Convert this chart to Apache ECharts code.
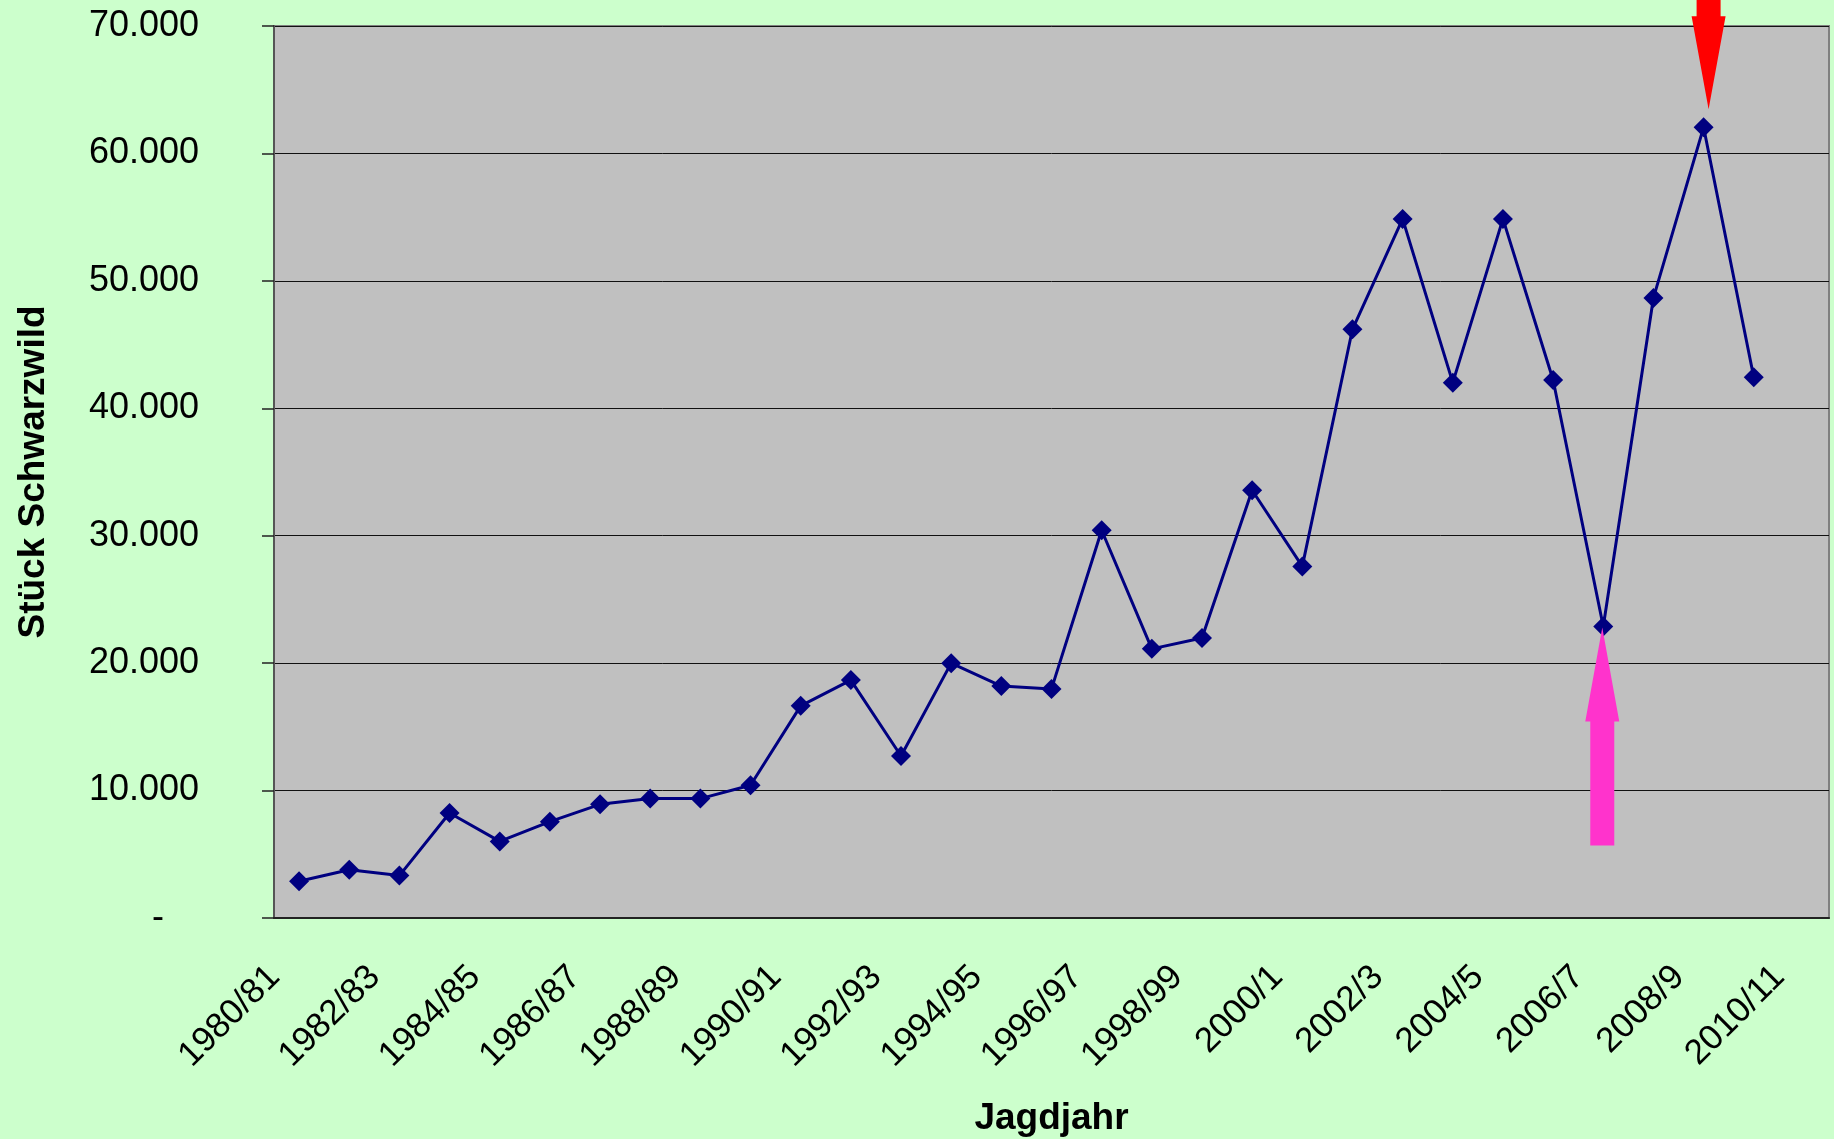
<!DOCTYPE html>
<html>
<head>
<meta charset="utf-8">
<title>Schwarzwild Strecke</title>
<script src="https://cdn.jsdelivr.net/npm/echarts@6/dist/echarts.min.js"></script>
<style>
  html, body { margin: 0; padding: 0; background: #ccffcc; }
  #chart { width: 1834px; height: 1139px; }
</style>
</head>
<body>
<div id="chart"></div>
<script>
// Jagdjahre (jede zweite Beschriftung sichtbar)
const years = [
  "1980/81", "1981/82", "1982/83", "1983/84", "1984/85", "1985/86", "1986/87",
  "1987/88", "1988/89", "1989/90", "1990/91", "1991/92", "1992/93", "1993/94",
  "1994/95", "1995/96", "1996/97", "1997/98", "1998/99", "1999/2000", "2000/1",
  "2001/2", "2002/3", "2003/4", "2004/5", "2005/6", "2006/7", "2007/8",
  "2008/9", "2009/10", "2010/11",
];
// Strecke Schwarzwild (Stück), 2010/11 ohne Wert
const strecke = [
  2880, 3780, 3330, 8240, 6010, 7560, 8920, 9370, 9370, 10420,
  16650, 18670, 12710, 20000, 18200, 17980, 30430, 21120, 21980, 33570,
  27590, 46200, 54860, 42010, 54860, 42220, 22880, 48660, 62050, 42440,
];
// markierte Jahre für die Pfeile
const lowYear = "2006/7";
const peakYear = "2008/9";

const font = "'Liberation Sans', Arial, sans-serif";

const fmt = (v) => String(v).replace(/\B(?=(\d{3})+(?!\d))/g, ".");

const chart = echarts.init(document.getElementById("chart"));

const option = {
  backgroundColor: "#ccffcc",
  animation: false,
  grid: {
    left: 274,
    right: 5,
    top: 26,
    bottom: 221,
    outerBoundsMode: "none",
    show: true,
    backgroundColor: "#c0c0c0",
    borderColor: "#808080",
    borderWidth: 2,
  },
  xAxis: {
    type: "category",
    data: years,
    boundaryGap: true,
    name: "Jagdjahr",
    nameLocation: "middle",
    nameGap: 182,
    nameTextStyle: {
      fontFamily: font,
      fontSize: 37,
      fontWeight: "bold",
      color: "#000",
    },
    axisLine: { lineStyle: { color: "#222", width: 2 } },
    axisTick: {
      interval: 0,
      length: 12,
      lineStyle: { color: "#222", width: 1.5 },
    },
    axisLabel: {
      interval: 1,
      rotate: 45,
      margin: 29,
      padding: [0, 35, 0, 0],
      fontFamily: font,
      fontSize: 35,
      color: "#000",
    },
    splitLine: { show: false },
  },
  yAxis: {
    type: "value",
    min: 0,
    max: 70000,
    interval: 10000,
    name: "Stück Schwarzwild",
    nameLocation: "middle",
    nameGap: 222,
    nameTextStyle: {
      fontFamily: font,
      fontSize: 37,
      fontWeight: "bold",
      color: "#000",
    },
    axisLine: { show: true, lineStyle: { color: "#555", width: 2 } },
    axisTick: { show: true, length: 12, lineStyle: { color: "#222", width: 1.5 } },
    axisLabel: {
      margin: 75,
      fontFamily: font,
      fontSize: 36,
      color: "#000",
      formatter: (v) => (v === 0 ? "{z|-}" : fmt(v)),
      rich: {
        z: { fontFamily: font, fontSize: 36, color: "#000", padding: [0, 35, 0, 0] },
      },
    },
    splitLine: { lineStyle: { color: "#111", width: 1 } },
  },
  series: [
    {
      name: "Stück Schwarzwild",
      type: "line",
      data: strecke,
      symbol: "diamond",
      symbolSize: 20,
      lineStyle: { color: "#000080", width: 3 },
      itemStyle: { color: "#000080" },
    },
  ],
};

chart.setOption(option);

// Pfeile an den markierten Punkten
const lowPt = chart.convertToPixel({ seriesIndex: 0 }, [lowYear, strecke[years.indexOf(lowYear)]]);
const peakPt = chart.convertToPixel({ seriesIndex: 0 }, [peakYear, strecke[years.indexOf(peakYear)]]);

const upArrow = (x, y) => [
  [x, y], [x + 17, y + 94], [x + 12, y + 94], [x + 12, y + 218],
  [x - 12, y + 218], [x - 12, y + 94], [x - 17, y + 94],
];
const downArrow = (x, y) => [
  [x, y], [x + 17, y - 93], [x + 12, y - 93], [x + 12, y - 140],
  [x - 12, y - 140], [x - 12, y - 93], [x - 17, y - 93],
];

chart.setOption({
  graphic: [
    {
      type: "polygon",
      z: 100,
      shape: { points: upArrow(lowPt[0] - 1, lowPt[1] + 1) },
      style: { fill: "#ff33cc" },
    },
    {
      type: "polygon",
      z: 100,
      shape: { points: downArrow(peakPt[0] + 5, peakPt[1] - 18) },
      style: { fill: "#ff0000" },
    },
  ],
});

window.addEventListener("resize", () => {
  chart.resize();
});
</script>
</body>
</html>
